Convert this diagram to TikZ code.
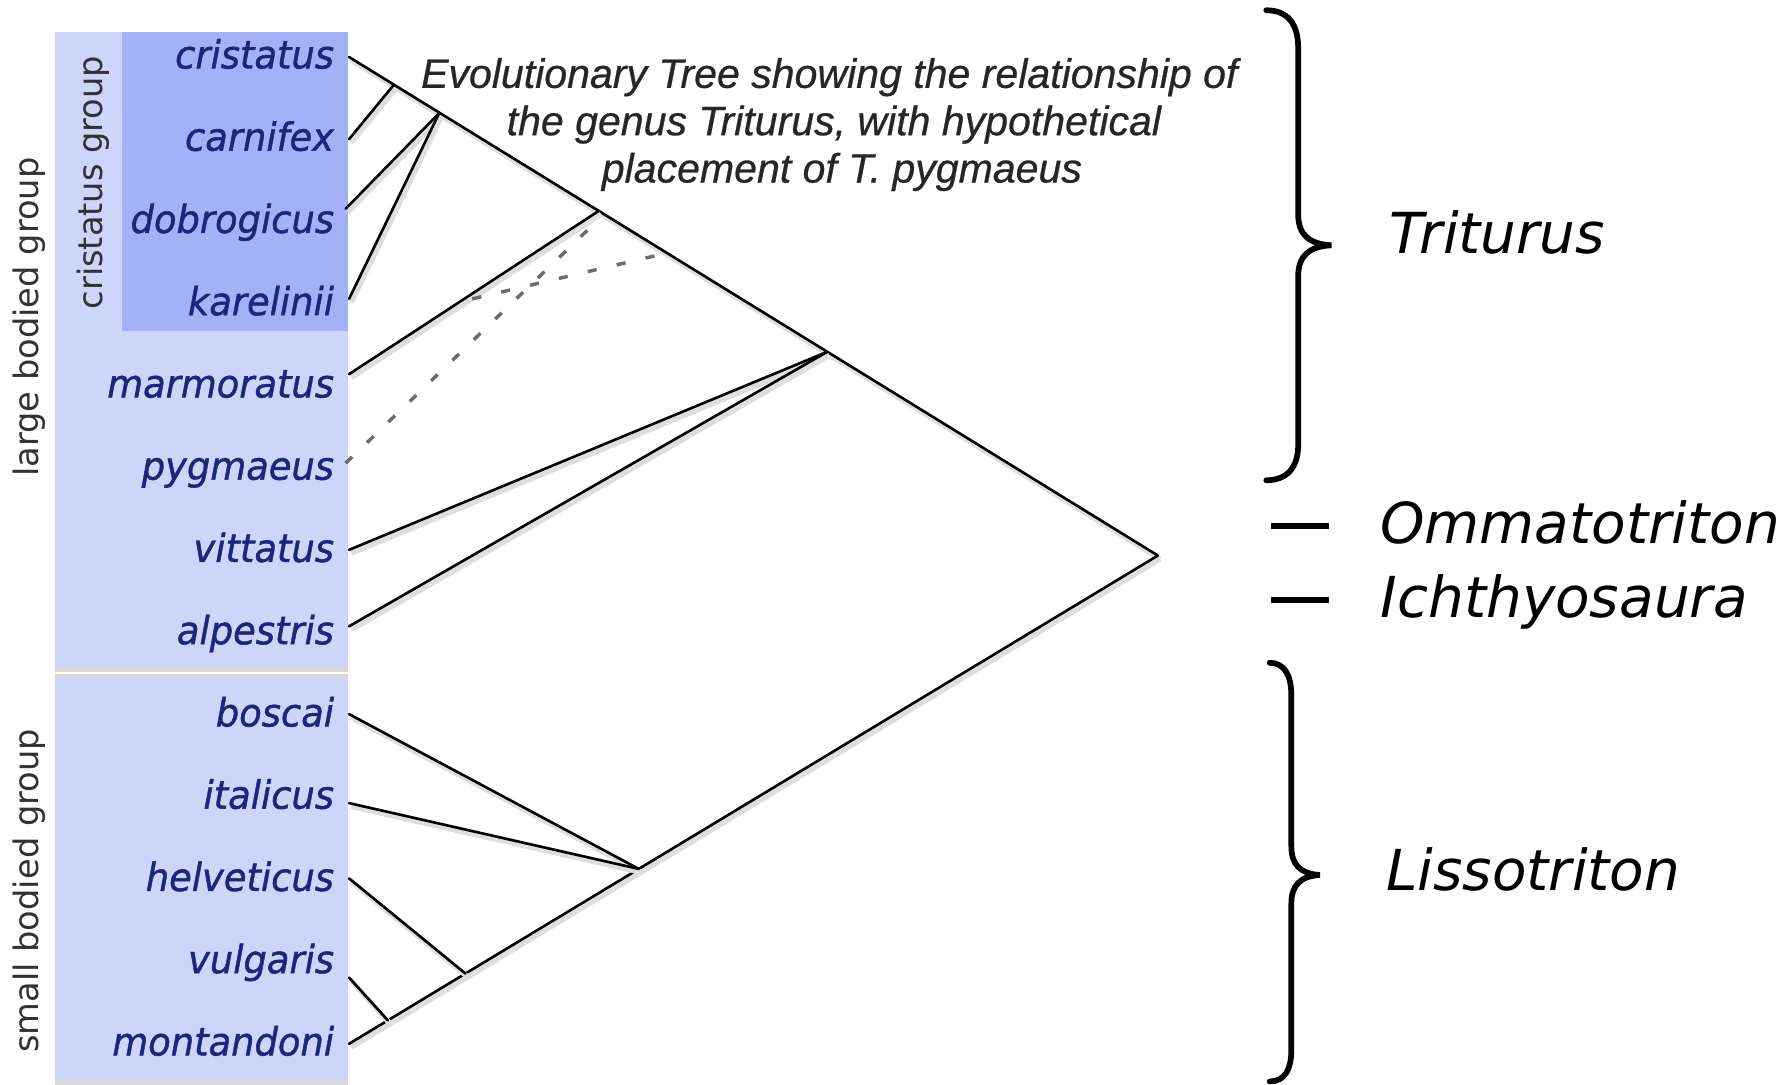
\documentclass[tikz,border=0pt]{standalone}
\usepackage{fontspec}
\setmainfont{DejaVu Sans}[ItalicFont={DejaVu Sans Oblique}]
\newfontfamily\capfont{Liberation Sans}[FakeBold=0.6]
\newfontfamily\specfont{DejaVu Sans Oblique}[FakeBold=1.2]
\definecolor{boxlight}{RGB}{205,213,250}
\definecolor{boxdark}{RGB}{163,178,246}
\definecolor{navy}{RGB}{28,38,122}
\definecolor{grouptxt}{RGB}{50,50,50}
\tikzset{
  species/.style={anchor=base east, text=navy, inner sep=0pt, xscale=0.95,
    font=\specfont\fontsize{34}{40}\selectfont},
  grp/.style={anchor=base, rotate=90, text=grouptxt, inner sep=0pt,
    font=\fontsize{29.5}{35}\selectfont},
  captext/.style={anchor=base, text=black!85, inner sep=0pt,
    font=\capfont\fontsize{36}{42}\selectfont\itshape},
  genus/.style={anchor=base west, inner sep=0pt,
    font=\fontsize{49.5}{58}\selectfont\itshape},
  branch/.style={line width=2.3pt, black, line cap=round,
    preaction={draw=black!13, line width=4.5pt, transform canvas={shift={(2pt,-3pt)}}}},
  hypo/.style={line width=3pt, black!58, dash pattern=on 8pt off 18pt},
  bracestroke/.style={line width=5pt, black, line cap=round},
}
\begin{document}
\begin{tikzpicture}[x=1pt,y=-1pt]
\useasboundingbox[fill=white] (0,0) rectangle (1563,951);

% group boxes
\fill[boxlight] (48,28) rectangle (305,585);
\fill[boxdark] (107,28) rectangle (305,290);
\fill[black!15] (48,585) rectangle (305,589);
\fill[black!15] (48,591) rectangle (305,594);
\fill[boxlight] (48,594) rectangle (305,947);
\fill[black!15] (48,947) rectangle (305,951);

% group labels
\node[grp] (gLarge) at (34,278) {large bodied group};
\node[grp] (gSmall) at (34,781) {small bodied group};
\node[grp] (gCrist) at (90,160) {cristatus group};

% species labels
\node[species] (cristatus)  at (293,60.0)  {cristatus};
\node[species] (carnifex)   at (293,132.1) {carnifex};
\node[species] (dobrogicus) at (293,204.2) {dobrogicus};
\node[species] (karelinii)  at (293,276.3) {karelinii};
\node[species] (marmoratus) at (293,348.4) {marmoratus};
\node[species] (pygmaeus)   at (293,420.5) {pygmaeus};
\node[species] (vittatus)   at (293,492.6) {vittatus};
\node[species] (alpestris)  at (293,564.7) {alpestris};
\node[species] (boscai)     at (293,636.8) {boscai};
\node[species] (italicus)   at (293,708.9) {italicus};
\node[species] (helveticus) at (293,781.0) {helveticus};
\node[species] (vulgaris)   at (293,853.1) {vulgaris};
\node[species] (montandoni) at (293,925.2) {montandoni};

% branch end points at the box edge
\coordinate (eCri) at (306,50);
\coordinate (eCar) at (306,122);
\coordinate (eDob) at (303,183);
\coordinate (eKar) at (306,262);
\coordinate (eMar) at (306,328);
\coordinate (ePyg) at (303,406);
\coordinate (eVit) at (306,482);
\coordinate (eAlp) at (306,549);
\coordinate (eBos) at (306,626);
\coordinate (eIta) at (306,704);
\coordinate (eHel) at (306,770);
\coordinate (eVul) at (306,857);
\coordinate (eMon) at (306,915);

% internal nodes
\coordinate (root) at (1015,487);
\coordinate (nA) at (345,74.6);
\coordinate (nB) at (385,99.2);
\coordinate (nC) at (525,184.8);
\coordinate (nD) at (725,308.5);
\coordinate (nE) at (585,221.7);
\coordinate (nP) at (521,196);
\coordinate (nM) at (414,262);
\coordinate (mA) at (560,761.7);
\coordinate (mB) at (408,853.4);
\coordinate (mC) at (340,894.5);

% tree
\draw[branch] (eCri) -- (root);
\draw[branch] (eMon) -- (root);
\draw[branch] (eCar) -- (nA);
\draw[branch] (eDob) -- (nB);
\draw[branch] (eKar) -- (nB);
\draw[branch] (eMar) -- (nC);
\draw[branch] (eVit) -- (nD);
\draw[branch] (eAlp) -- (nD);
\draw[branch] (eBos) -- (mA);
\draw[branch] (eIta) -- (mA);
\draw[branch] (eHel) -- (mB);
\draw[branch] (eVul) -- (mC);
\draw[hypo] (ePyg) -- (nP);
\draw[hypo] (nM) -- (nE);

% caption
\node[captext] (cap1) at (727,77) {Evolutionary Tree showing the relationship of};
\node[captext] (cap2) at (731,118.5) {the genus Triturus, with hypothetical};
\node[captext] (cap3) at (738,160) {placement of T. pygmaeus};

% braces and genus labels
\draw[bracestroke] (1110,9) .. controls (1128,9) and (1138,20) .. (1138,42)
  -- (1138,188) .. controls (1138,206) and (1148,214) .. (1167,215)
  .. controls (1148,216) and (1138,224) .. (1138,242)
  -- (1138,390) .. controls (1138,410) and (1128,421) .. (1110,421);
\draw[bracestroke] (1113,581) .. controls (1126,581) and (1132,592) .. (1132,610)
  -- (1132,742) .. controls (1132,758) and (1140,766) .. (1157,767)
  .. controls (1140,768) and (1132,776) .. (1132,792)
  -- (1132,920) .. controls (1132,938) and (1126,948) .. (1113,948);
\coordinate (dOa) at (1114,461);
\coordinate (dOb) at (1165,461);
\coordinate (dIa) at (1114,526);
\coordinate (dIb) at (1165,526);
\draw[bracestroke, line cap=butt] (dOa) -- (dOb);
\draw[bracestroke, line cap=butt] (dIa) -- (dIb);

\node[genus] (triturus) at (1218,222) {Triturus};
\node[genus] (ommato) at (1210,476) {Ommatotriton};
\node[genus] (ichthyo) at (1210,541) {Ichthyosaura};
\node[genus] (lisso) at (1215,781) {Lissotriton};
\end{tikzpicture}
\end{document}
